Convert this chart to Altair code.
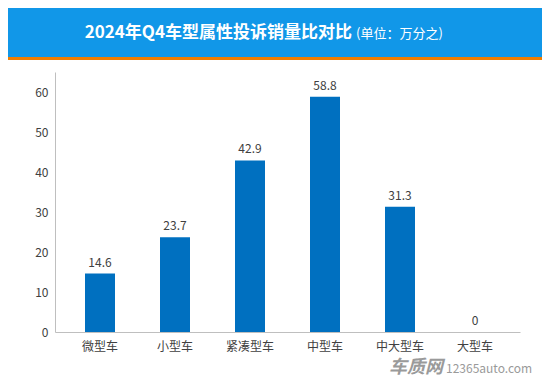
import altair as alt
import pandas as pd

categories = ["微型车", "小型车", "紧凑型车", "中型车", "中大型车", "大型车"]
values = [14.6, 23.7, 42.9, 58.8, 31.3, 0]
y_ticks = [0, 10, 20, 30, 40, 50, 60]
title_main = "2024年Q4车型属性投诉销量比对比"
title_unit = "(单位：万分之)"
wm_logo = "车质网"
wm_site = "12365auto.com"

FONT = "Noto Sans CJK SC"
df = pd.DataFrame({"cat": categories, "val": values})
one = pd.DataFrame({"a": [0]})

W, H = 465, 260
PL, PT = 47, 64

x_enc = alt.X("cat:N", sort=categories,
              scale=alt.Scale(paddingInner=0.6, paddingOuter=0.4),
              axis=alt.Axis(title=None, labelAngle=0, ticks=False, labelPadding=9,
                            domainColor="#BFBFBF", labelColor="#404040",
                            labelFontSize=12, labelFont=FONT))
y_enc = alt.Y("val:Q", scale=alt.Scale(domain=[0, 65], nice=False),
              axis=alt.Axis(title=None, values=y_ticks, ticks=False, grid=False,
                            labelPadding=7, domainColor="#BFBFBF", labelColor="#404040",
                            labelFontSize=12, labelFont=FONT))

header = alt.Chart(one).mark_rect(color="#1197E8").encode(
    x=alt.value(-PL), x2=alt.value(534 - PL), y=alt.value(-PT), y2=alt.value(-15))
orange = alt.Chart(one).mark_rect(color="#F07D00").encode(
    x=alt.value(-PL), x2=alt.value(534 - PL), y=alt.value(-15), y2=alt.value(-12))

t1 = alt.Chart(pd.DataFrame({"t": [title_main]})).mark_text(
    align="right", baseline="middle", font=FONT, fontSize=17, fontWeight="bold", color="white"
).encode(text="t:N", x=alt.value(297), y=alt.value(-39))
t2 = alt.Chart(pd.DataFrame({"t": [title_unit]})).mark_text(
    align="left", baseline="middle", font=FONT, fontSize=13, color="white"
).encode(text="t:N", x=alt.value(301), y=alt.value(-38))

bars = alt.Chart(df).mark_bar(color="#0070C0").encode(x=x_enc, y=y_enc)
labels = alt.Chart(df).mark_text(
    baseline="bottom", dy=-4, font=FONT, fontSize=12, color="#404040"
).encode(x=alt.X("cat:N", sort=categories), y="val:Q", text=alt.Text("val:Q"))

wm1 = alt.Chart(pd.DataFrame({"t": [wm_logo]})).mark_text(
    align="left", baseline="bottom", font=FONT, fontSize=18, fontWeight="bold",
    fontStyle="italic", color="#9A9A9A"
).encode(text="t:N", x=alt.value(334), y=alt.value(305))
wm2 = alt.Chart(pd.DataFrame({"t": [wm_site]})).mark_text(
    align="left", baseline="bottom", font=FONT, fontSize=12, color="#9A9A9A"
).encode(text="t:N", x=alt.value(391), y=alt.value(304))

chart = alt.layer(header, orange, t1, t2, bars, labels, wm1, wm2).properties(
    width=W, height=H,
    autosize=alt.AutoSizeParams(type="none"),
    padding={"left": PL, "top": PT, "right": 534 - PL - W, "bottom": 370 - PT - H},
    background="white",
).configure_view(stroke=None)

chart.save("out.html", embed_options={"renderer": "svg", "actions": False})
